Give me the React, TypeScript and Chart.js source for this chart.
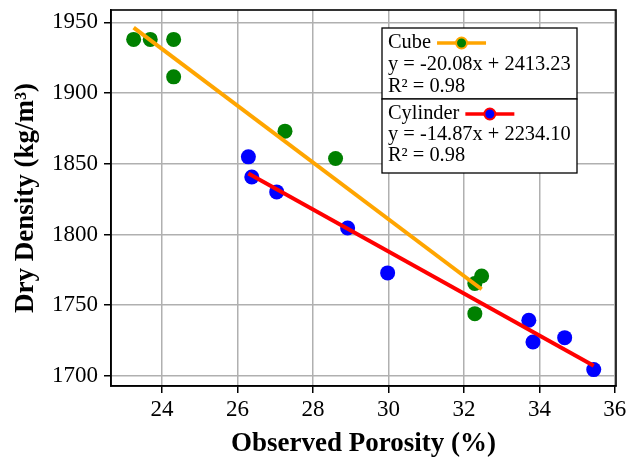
import React, { useEffect, useRef } from "react";
import { Chart, registerables } from "chart.js";

Chart.register(...registerables);

// ---- data ----
const cubeX = [23.25, 23.69, 24.31, 24.31, 27.26, 28.6, 32.47, 32.29, 32.29];
const cubeY = [1938.0, 1938.0, 1938.0, 1911.5, 1873.1, 1853.7, 1770.6, 1765.3, 1744.0];
const cylX = [26.29, 26.38, 27.04, 28.92, 29.98, 33.72, 33.83, 34.67, 35.44];
const cylY = [1854.9, 1840.7, 1830.1, 1804.6, 1772.8, 1739.3, 1723.9, 1727.0, 1704.4];
const cubeFit = { slope: -20.08, intercept: 2413.23, r2: 0.98 };
const cylFit = { slope: -14.87, intercept: 2234.1, r2: 0.98 };
const xTicks = [24, 26, 28, 30, 32, 34, 36];
const yTicks = [1700, 1750, 1800, 1850, 1900, 1950];
const seriesNames = ["Cube", "Cylinder"];
const xTitle = "Observed Porosity (%)";
const yTitle = "Dry Density (kg/m³)";

const FONT = "'Liberation Serif', 'Times New Roman', serif";

function fitLine(xs: number[], fit: { slope: number; intercept: number }) {
  const lo = Math.min(...xs);
  const hi = Math.max(...xs);
  return [
    { x: lo, y: fit.slope * lo + fit.intercept },
    { x: hi, y: fit.slope * hi + fit.intercept },
  ];
}

function eqText(fit: { slope: number; intercept: number }) {
  const sign = fit.intercept >= 0 ? "+" : "-";
  return `y = ${fit.slope.toFixed(2)}x ${sign} ${Math.abs(fit.intercept).toFixed(2)}`;
}

const legendPlugin = {
  id: "fitLegend",
  afterDraw(chart: any) {
    const { ctx, chartArea } = chart;
    // frame around plot area
    ctx.save();
    ctx.strokeStyle = "#000";
    ctx.lineWidth = 1.6;
    ctx.strokeRect(chartArea.left, chartArea.top, chartArea.right - chartArea.left, chartArea.bottom - chartArea.top);

    const boxL = chartArea.right - 234;
    const boxR = chartArea.right - 39;
    const top1 = chartArea.top + 18;
    const mid = chartArea.top + 89;
    const bot = chartArea.top + 163;
    const entries = [
      { name: seriesNames[0], fit: cubeFit, line: "#ffa500", dot: "#008000", top: top1, bottom: mid, rows: [33, 55, 77] },
      { name: seriesNames[1], fit: cylFit, line: "#ff0000", dot: "#0000ff", top: mid, bottom: bot, rows: [104, 125, 146] },
    ];
    ctx.font = `20.4px ${FONT}`;
    ctx.textBaseline = "middle";
    ctx.textAlign = "left";
    entries.forEach((e) => {
      ctx.fillStyle = "#fff";
      ctx.fillRect(boxL, e.top, boxR - boxL, e.bottom - e.top);
      ctx.strokeStyle = "#000";
      ctx.lineWidth = 1.3;
      ctx.strokeRect(boxL, e.top, boxR - boxL, e.bottom - e.top);
      const tx = boxL + 6;
      const r0 = e.rows[0] + chartArea.top;
      ctx.fillStyle = "#000";
      ctx.fillText(e.name, tx, r0);
      const w = ctx.measureText(e.name).width;
      const lx0 = tx + w + 6;
      const lx1 = lx0 + 49;
      ctx.strokeStyle = e.line;
      ctx.lineWidth = 3.5;
      ctx.beginPath();
      ctx.moveTo(lx0, r0);
      ctx.lineTo(lx1, r0);
      ctx.stroke();
      ctx.beginPath();
      ctx.arc((lx0 + lx1) / 2, r0, 5.5, 0, Math.PI * 2);
      ctx.fillStyle = e.dot;
      ctx.fill();
      ctx.lineWidth = 2;
      ctx.strokeStyle = e.line;
      ctx.stroke();
      ctx.fillStyle = "#000";
      ctx.fillText(eqText(e.fit), tx, e.rows[1] + chartArea.top);
      ctx.fillText(`R² = ${e.fit.r2.toFixed(2)}`, tx, e.rows[2] + chartArea.top);
    });
    ctx.restore();
  },
};

export default function App() {
  const ref = useRef<HTMLCanvasElement | null>(null);
  useEffect(() => {
    document.body.style.margin = "0";
    if (!ref.current) return;
    const chart = new Chart(ref.current, {
      type: "scatter",
      data: {
        datasets: [
          {
            label: seriesNames[0] + " fit",
            data: fitLine(cubeX, cubeFit),
            showLine: true,
            borderColor: "#ffa500",
            borderWidth: 4,
            pointRadius: 0,
            order: 0,
          },
          {
            label: seriesNames[1] + " fit",
            data: fitLine(cylX, cylFit),
            showLine: true,
            borderColor: "#ff0000",
            borderWidth: 4,
            pointRadius: 0,
            order: 0,
          },
          {
            label: seriesNames[0],
            data: cubeX.map((x, i) => ({ x, y: cubeY[i] })),
            backgroundColor: "#008000",
            borderWidth: 0,
            pointRadius: 7.5,
            order: 1,
          },
          {
            label: seriesNames[1],
            data: cylX.map((x, i) => ({ x, y: cylY[i] })),
            backgroundColor: "#0000ff",
            borderWidth: 0,
            pointRadius: 7.5,
            order: 1,
          },
        ],
      },
      options: {
        animation: false,
        responsive: true,
        maintainAspectRatio: false,
        layout: { padding: { top: 10, right: 22, left: 0, bottom: 0 } },
        plugins: { legend: { display: false }, tooltip: { enabled: false } },
        scales: {
          x: {
            type: "linear",
            min: 22.65,
            max: 36.03,
            afterBuildTicks: (s: any) => {
              s.ticks = xTicks.map((v) => ({ value: v }));
            },
            afterFit: (s: any) => {
              s.height = 71;
              s.paddingLeft = 0;
              s.paddingRight = 0;
            },
            grid: { color: "#b0b0b0", lineWidth: 1.5, tickColor: "#000", tickLength: 7, tickWidth: 1.5 },
            border: { color: "#000", width: 1.6 },
            ticks: {
              color: "#000",
              font: { family: FONT, size: 23 },
              padding: 3,
              maxRotation: 0,
              callback: (v: any) => String(v),
            },
            title: {
              display: true,
              text: xTitle,
              color: "#000",
              font: { family: FONT, size: 27, weight: "bold", lineHeight: 1 },
              padding: { top: 0, bottom: -1 },
            },
          },
          y: {
            type: "linear",
            min: 1692.8,
            max: 1958.8,
            afterBuildTicks: (s: any) => {
              s.ticks = yTicks.map((v) => ({ value: v }));
            },
            afterFit: (s: any) => {
              s.width = 111;
              s.paddingTop = 0;
              s.paddingBottom = 0;
            },
            grid: { color: "#b0b0b0", lineWidth: 1.5, tickColor: "#000", tickLength: 7, tickWidth: 1.5 },
            border: { color: "#000", width: 1.6 },
            ticks: {
              color: "#000",
              font: { family: FONT, size: 23 },
              padding: 6,
              callback: (v: any) => String(v),
            },
            title: {
              display: true,
              text: yTitle,
              color: "#000",
              font: { family: FONT, size: 27, weight: "bold", lineHeight: 1 },
              padding: { top: 13, bottom: 0 },
            },
          },
        },
      },
      plugins: [legendPlugin],
    });
    return () => chart.destroy();
  }, []);
  return (
    <div style={{ position: "fixed", left: 0, top: 0, width: 638, height: 457, background: "#fff" }}>
      <canvas ref={ref} />
    </div>
  );
}
